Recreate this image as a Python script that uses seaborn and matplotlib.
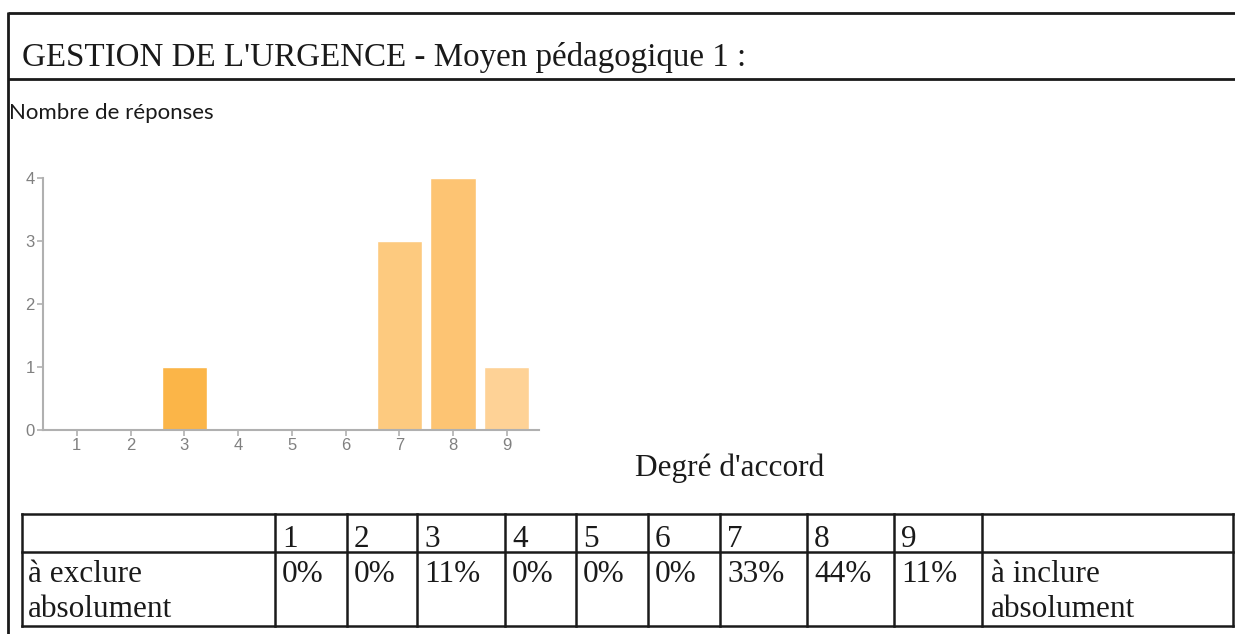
import matplotlib
matplotlib.use("Agg")
import matplotlib.pyplot as plt
import seaborn as sns
import pandas as pd

# donnees
degres = ["1", "2", "3", "4", "5", "6", "7", "8", "9"]
reponses = [0, 0, 1, 0, 0, 0, 3, 4, 1]
couleurs = ["#fbb548", "#fbb548", "#fbb548", "#fbb548", "#fbb548",
            "#fbb548", "#fdca7f", "#fdc473", "#fed296"]
pourcentages = ["0%", "0%", "11%", "0%", "0%", "0%", "33%", "44%", "11%"]

titre = "GESTION DE L'URGENCE - Moyen pédagogique 1 :"
W, H = 1235, 634

sns.set_theme(style="white")
plt.rcParams["font.family"] = ["Liberation Sans", "DejaVu Sans"]

fig = plt.figure(figsize=(W / 100, H / 100), dpi=100)

# calque pour le cadre, les textes et le tableau (coordonnees en pixels)
fond = fig.add_axes([0, 0, 1, 1])
fond.set_xlim(0, W)
fond.set_ylim(H, 0)
fond.axis("off")

trait = dict(color="#1a1a1a", lw=2, solid_capstyle="butt")
fond.plot([8, 8], [12, H], **trait)
fond.plot([8, W], [13, 13], **trait)
fond.plot([8, W], [79, 79], **trait)

fond.text(22, 66, titre, family="Liberation Serif", fontsize=23.8, color="#1a1a1a")
fond.text(9, 119, "Nombre de réponses", family="Lato", fontsize=16, color="#1a1a1a")
fond.text(635, 476, "Degré d'accord", family="Liberation Serif", fontsize=22.5, color="#1a1a1a")

# tableau
bords_x = [22, 275, 347, 417, 505, 576, 648, 720, 807, 894, 982, 1233]
bords_y = [514, 552, 626]
t = dict(color="#1a1a1a", lw=1.8, solid_capstyle="projecting")
for y in bords_y:
    fond.plot([bords_x[0], bords_x[-1]], [y, y], **t)
for x in bords_x:
    fond.plot([x, x], [bords_y[0], bords_y[-1]], **t)

serif = dict(family="Liberation Serif", fontsize=22.5, color="#1a1a1a")
for i, d in enumerate(degres):
    fond.text(bords_x[i + 1] + 7, 547, d, **serif)
    fond.text(bords_x[i + 1] + 7, 582, pourcentages[i], **serif)
fond.text(bords_x[0] + 6, 582, "à exclure", **serif)
fond.text(bords_x[0] + 6, 617, "absolument", **serif)
fond.text(bords_x[-2] + 9, 582, "à inclure", **serif)
fond.text(bords_x[-2] + 9, 617, "absolument", **serif)

# graphique en barres
ax = fig.add_axes([43 / W, 1 - 430 / H, 496 / W, 252 / H])
df = pd.DataFrame({"degre": degres, "n": reponses})
sns.barplot(data=df, x="degre", y="n", hue="degre", palette=couleurs,
            width=0.84, legend=False, saturation=1, ax=ax)
ax.set_xlim(-0.63, 8.6)
ax.set_ylim(0, 4)
ax.set_yticks([0, 1, 2, 3, 4])
ax.set_xlabel("")
ax.set_ylabel("")
ax.set_facecolor("none")
for s in ["top", "right"]:
    ax.spines[s].set_visible(False)
for s in ["left", "bottom"]:
    ax.spines[s].set_color("#b0b0b0")
    ax.spines[s].set_linewidth(1.5)
ax.tick_params(axis="both", length=4, width=1.2, color="#b0b0b0",
               labelcolor="#808080", labelsize=12, pad=2, direction="out")
ax.tick_params(axis="x", bottom=True)
ax.tick_params(axis="y", left=True)

fig.savefig("out.png", dpi=100)
